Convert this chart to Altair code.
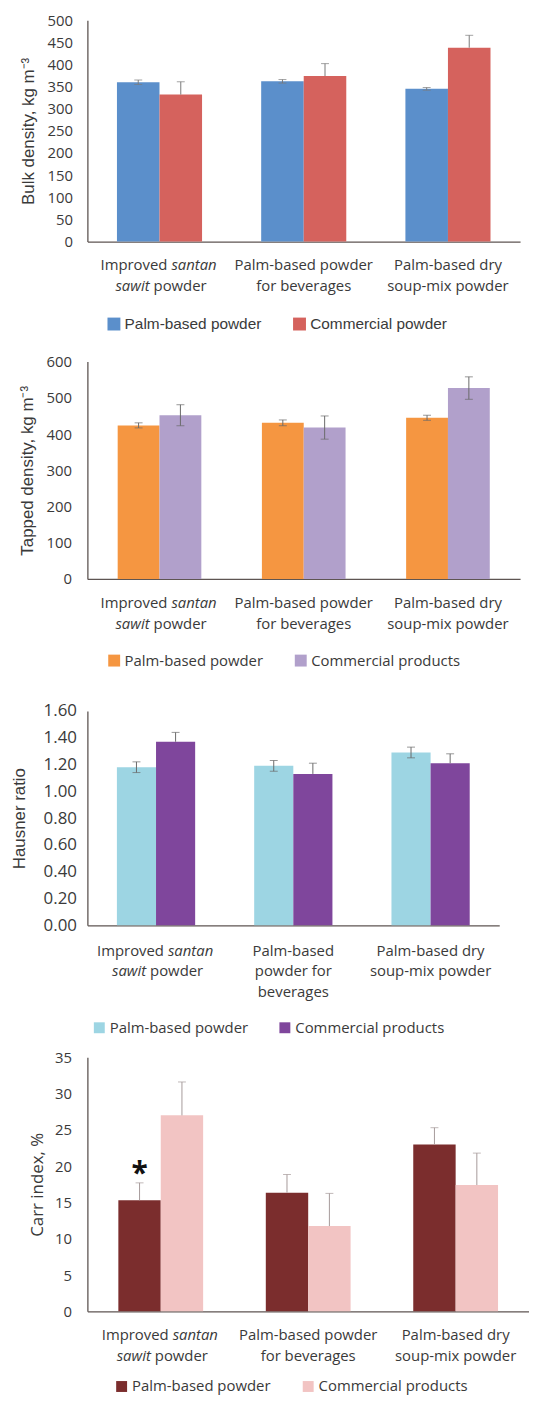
import altair as alt
import pandas as pd

categories = [
    "Improved santan sawit powder",
    "Palm-based powder for beverages",
    "Palm-based dry soup-mix powder",
]

bulk_series = ["Palm-based powder", "Commercial powder"]
bulk_palm = [360, 362, 345]
bulk_palm_err = [5, 4, 3]
bulk_comm = [332, 374, 438]
bulk_comm_err = [29, 28, 28]

tapped_series = ["Palm-based powder", "Commercial products"]
tapped_palm = [424, 431, 445]
tapped_palm_err = [7, 8, 7]
tapped_comm = [452, 418, 527]
tapped_comm_err = [29, 32, 31]

hausner_series = ["Palm-based powder", "Commercial products"]
hausner_palm = [1.18, 1.19, 1.29]
hausner_palm_err = [0.04, 0.04, 0.04]
hausner_comm = [1.37, 1.13, 1.21]
hausner_comm_err = [0.07, 0.08, 0.07]

carr_series = ["Palm-based powder", "Commercial products"]
carr_palm = [15.3, 16.35, 23.0]
carr_palm_err = [2.4, 2.5, 2.3]
carr_comm = [27.0, 11.75, 17.4]
carr_comm_err = [4.6, 4.5, 4.4]
carr_star_category = categories[0]
carr_star_series = "Palm-based powder"
carr_star_value = 20.0

lines_2row = [["Palm-based powder", "for beverages"], ["Palm-based dry", "soup-mix powder"]]
lines_3row = [["Palm-based", "powder for", "beverages"], ["Palm-based dry", "soup-mix powder"]]
first_label_fragments = [
    (0, "Improved", False, "right", 8),
    (0, "santan", True, "left", 12),
    (1, "sawit", True, "right", -10),
    (1, "powder", False, "left", -6),
]

AXIS_COLOR = "#5e5552"
TEXT_COLOR = "#3a3a3a"


def make_panel(series, vals_a, err_a, low_a, vals_b, err_b, low_b, colors,
               width, height, pi, po, ymax, ystep, yformat, ytitle,
               tick_font, tick_size, title_font, title_size, label_pad, title_pad,
               legend_font, legend_size, legend_x, legend_y, legend_pad, sym_size,
               col_pad, other_lines, line_y0, line_h, err_color,
               star=None):
    rows = []
    for i, c in enumerate(categories):
        for s, vals, errs, low in ((series[0], vals_a, err_a, low_a), (series[1], vals_b, err_b, low_b)):
            rows.append(dict(category=c, series=s, value=vals[i],
                             upper=vals[i] + errs[i],
                             lower=(vals[i] - errs[i]) if low else vals[i]))
    df = pd.DataFrame(rows)

    yvals = []
    v = 0.0
    while v <= ymax + 1e-9:
        yvals.append(round(v, 4))
        v += ystep

    xenc = alt.X("category:N", sort=categories,
                 scale=alt.Scale(paddingInner=pi, paddingOuter=po),
                 axis=alt.Axis(labels=False, ticks=False, title=None, grid=False,
                               domainColor=AXIS_COLOR, domainWidth=1.3))
    xoff = alt.XOffset("series:N", sort=series,
                       scale=alt.Scale(paddingInner=0, paddingOuter=0))
    yscale = alt.Scale(domain=[0, ymax], nice=False)
    yaxis = alt.Axis(values=yvals, format=yformat, title=ytitle, grid=False, ticks=False,
                     domainColor=AXIS_COLOR, domainWidth=1.3,
                     labelFont=tick_font, labelFontSize=tick_size, labelColor=TEXT_COLOR,
                     labelPadding=label_pad,
                     titleFont=title_font, titleFontSize=title_size, titleFontWeight="normal",
                     titleColor=TEXT_COLOR, titlePadding=title_pad)

    bars = alt.Chart(df).mark_bar().encode(
        x=xenc, xOffset=xoff,
        y=alt.Y("value:Q", scale=yscale, axis=yaxis),
        color=alt.Color("series:N", sort=series,
                        scale=alt.Scale(domain=series, range=colors),
                        legend=alt.Legend(orient="none", legendX=legend_x, legendY=legend_y,
                                          direction="horizontal", title=None,
                                          symbolType="square", symbolSize=sym_size,
                                          symbolStrokeWidth=0, symbolOpacity=1,
                                          labelFont=legend_font, labelFontSize=legend_size,
                                          labelColor=TEXT_COLOR, labelOffset=3,
                                          labelLimit=300,
                                          columnPadding=col_pad, padding=legend_pad)),
    )
    rules = alt.Chart(df).mark_rule(color=err_color, strokeWidth=1).encode(
        x=xenc, xOffset=xoff,
        y=alt.Y("lower:Q", scale=yscale, axis=yaxis), y2="upper:Q")
    cap_up = alt.Chart(df).mark_tick(color=err_color, size=8, thickness=1).encode(
        x=xenc, xOffset=xoff, y=alt.Y("upper:Q", scale=yscale, axis=yaxis))
    cap_lo = alt.Chart(df).transform_filter("datum.lower < datum.value").mark_tick(
        color=err_color, size=8, thickness=1).encode(
        x=xenc, xOffset=xoff, y=alt.Y("lower:Q", scale=yscale, axis=yaxis))

    layers = [bars, rules, cap_up, cap_lo]

    for ci, lines in enumerate(other_lines):
        for li, txt in enumerate(lines):
            ldf = pd.DataFrame({"category": [categories[ci + 1]], "t": [txt]})
            layers.append(alt.Chart(ldf).mark_text(
                font="Open Sans", fontSize=15, color=TEXT_COLOR, align="center", baseline="middle"
            ).encode(x=alt.X("category:N", sort=categories), text="t:N",
                     y=alt.value(height + line_y0 + li * line_h)))
    for (li, txt, ital, al, dx) in first_label_fragments:
        ldf = pd.DataFrame({"category": [categories[0]], "t": [txt]})
        layers.append(alt.Chart(ldf).mark_text(
            font="Open Sans", fontSize=15, color=TEXT_COLOR, align=al, baseline="middle",
            dx=dx, fontStyle="italic" if ital else "normal"
        ).encode(x=alt.X("category:N", sort=categories), text="t:N",
                 y=alt.value(height + line_y0 + li * line_h)))

    if star is not None:
        sdf = pd.DataFrame({"category": [star[0]], "series": [star[1]], "value": [star[2]], "t": ["*"]})
        layers.append(alt.Chart(sdf).mark_text(
            font="Open Sans", fontSize=30, fontWeight="bold", color="#111111",
            baseline="middle", dy=8
        ).encode(x=xenc, xOffset=xoff, y=alt.Y("value:Q", scale=yscale, axis=yaxis), text="t:N"))

    return alt.layer(*layers).properties(width=width, height=height)


p1 = make_panel(bulk_series, bulk_palm, bulk_palm_err, True, bulk_comm, bulk_comm_err, False,
                ["#5b8fcb", "#d5625d"],
                width=436, height=223, pi=0.41, po=0.205, ymax=500, ystep=50, yformat="d",
                ytitle="Bulk density, kg m\u207b\u00b3",
                tick_font="Open Sans", tick_size=15, title_font="Liberation Sans", title_size=17,
                label_pad=15, title_pad=10,
                legend_font="Liberation Sans", legend_size=15.5, legend_x=11, legend_y=290,
                legend_pad=8, sym_size=169, col_pad=30,
                other_lines=lines_2row, line_y0=24, line_h=21, err_color="#7a7a7a")

p2 = make_panel(tapped_series, tapped_palm, tapped_palm_err, True, tapped_comm, tapped_comm_err, True,
                ["#f59641", "#b1a0cb"],
                width=436, height=219, pi=0.42, po=0.21, ymax=600, ystep=100, yformat="d",
                ytitle="Tapped density, kg m\u207b\u00b3",
                tick_font="Open Sans", tick_size=15, title_font="Liberation Sans", title_size=17,
                label_pad=16, title_pad=10,
                legend_font="Open Sans", legend_size=15, legend_x=0, legend_y=274,
                legend_pad=19.5, sym_size=144, col_pad=30,
                other_lines=lines_2row, line_y0=24, line_h=21, err_color="#6a6a6a")

p3 = make_panel(hausner_series, hausner_palm, hausner_palm_err, True, hausner_comm, hausner_comm_err, False,
                ["#9dd5e3", "#7f469c"],
                width=415, height=216, pi=0.43, po=0.215, ymax=1.6, ystep=0.2, yformat=".2f",
                ytitle="Hausner ratio",
                tick_font="Open Sans", tick_size=17, title_font="Liberation Sans", title_size=17,
                label_pad=11, title_pad=15,
                legend_font="Open Sans", legend_size=15, legend_x=4, legend_y=311,
                legend_pad=0.5, sym_size=121, col_pad=29,
                other_lines=lines_3row, line_y0=26, line_h=20.5, err_color="#6a6a6a")

p4 = make_panel(carr_series, carr_palm, carr_palm_err, False, carr_comm, carr_comm_err, False,
                ["#7b2d2d", "#f2c4c3"],
                width=445, height=256, pi=0.425, po=0.21, ymax=35, ystep=5, yformat="d",
                ytitle="Carr index, %",
                tick_font="Open Sans", tick_size=15, title_font="Open Sans", title_size=17,
                label_pad=16, title_pad=8,
                legend_font="Open Sans", legend_size=15, legend_x=27, legend_y=324,
                legend_pad=0, sym_size=121, col_pad=30,
                other_lines=lines_2row, line_y0=24, line_h=21, err_color="#a59a9a",
                star=(carr_star_category, carr_star_series, carr_star_value))

chart = alt.vconcat(p1, p2, p3, p4, spacing=14).resolve_scale(
    x="independent", y="independent", xOffset="independent", color="independent"
).resolve_legend(color="independent").configure_view(stroke=None).properties(
    padding={"left": 2, "top": 0, "right": 0, "bottom": 0}
)

chart.save("out.html", embed_options={"renderer": "svg", "actions": False})
